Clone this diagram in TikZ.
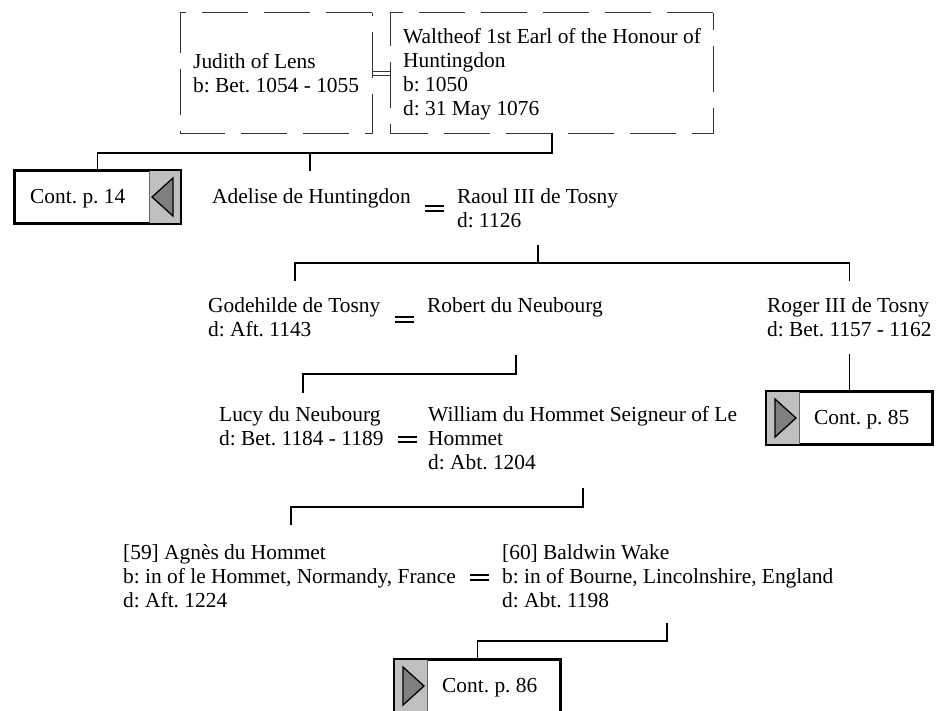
\documentclass[tikz,border=0pt]{standalone}
\usepackage{fontspec}
\setmainfont{Liberation Serif}
\newcommand\persfont{\fontsize{21.4pt}{24pt}\selectfont\frenchspacing}
\begin{document}
\begin{tikzpicture}[x=1pt,y=-1pt,
  person/.style={anchor=base west, inner sep=0pt, align=left, font=\persfont},
  conn/.style={line width=1.8pt, black},
  dashline/.style={line width=1.3pt, draw=black!80, dash pattern=on 46pt off 16pt},
  dblline/.style={line width=1pt, draw=black!80},
  eqbar/.style={line width=2pt, black},
  holder/.style={draw=none, inner sep=0pt, minimum height=120pt},
  contbox/.style={draw=black, line width=2pt, inner sep=0pt, minimum width=165pt, minimum height=52pt},
  greypart/.style={fill=black!25, draw=black!60, line width=1pt},
  tri/.style={fill=black!50, draw=black, line width=1.3pt, line join=miter}
]
\useasboundingbox (0,0) rectangle (937,710);

% ---- dashed boxes of the top couple
\node[holder, minimum width=191pt] (judbox) at (276.5,73) {};
\node[holder, minimum width=322pt] (walbox) at (552,73) {};
\draw[dashline] (judbox.north east) -- (judbox.north west) -- (judbox.south west) -- (judbox.south east) -- cycle;
\draw[dashline] (walbox.north east) -- (walbox.north west) -- (walbox.south west) -- (walbox.south east) -- cycle;
\draw[dblline] ([yshift=-2pt]judbox.east) -- ([yshift=-2pt]walbox.west);
\draw[dblline] ([yshift=1.2pt]judbox.east) -- ([yshift=1.2pt]walbox.west);

% (base anchor = baseline of the last line)
\node[person] (judith) at (193,92) {Judith of Lens\\b: Bet. 1054 - 1055};
\node[person] (waltheof) at (403,115) {Waltheof 1st Earl of the Honour of\\Huntingdon\\b: 1050\\d: 31 May 1076};

% ---- generation 2
\node[person] (adelise) at (212,203) {Adelise de Huntingdon};
\node[person] (raoul) at (457,227) {Raoul III de Tosny\\d: 1126};
\draw[eqbar] (425,206) -- ++(19,0) (425,211) -- ++(19,0);

% continuation box p. 14
\node[contbox] (c14) at (97.5,197) {};
\filldraw[greypart] ([xshift=-32pt]c14.north east) rectangle (c14.south east);
\filldraw[tri] (152,197) -- (173,178) -- (173,216) -- cycle;
\draw[line width=2pt] (c14.north west) rectangle (c14.south east);
\node[person] (c14t) at (30,203) {Cont. p. 14};

% connectors gen 1 -> gen 2
\coordinate (b1) at (0,153);
\coordinate (adtop) at (310,171);
\draw[conn] (walbox.south) -- (walbox.south |- b1) -- (c14.north |- b1) -- (c14.north);
\draw[conn] (adtop |- b1) -- (adtop);

% ---- generation 3
\node[person] (godehilde) at (208,336) {Godehilde de Tosny\\d: Aft. 1143};
\node[person] (robert) at (427,312) {Robert du Neubourg};
\draw[eqbar] (395,317) -- ++(19,0) (395,322) -- ++(19,0);
\node[person] (roger) at (767,336) {Roger III de Tosny\\d: Bet. 1157 - 1162};

\coordinate (raoulbot) at (538,245);
\coordinate (b2) at (0,263);
\coordinate (godtop) at (295,281);
\coordinate (rogtop) at (849.5,281);
\draw[conn] (raoulbot) -- (raoulbot |- b2);
\draw[conn] (godtop) -- (godtop |- b2) -- (rogtop |- b2) -- (rogtop);

% continuation box p. 85
\node[contbox] (c85) at (849.5,418) {};
\filldraw[greypart] (c85.north west) rectangle ([xshift=33pt]c85.south west);
\filldraw[tri] (775,399) -- (796,418) -- (775,437) -- cycle;
\draw[line width=2pt] (c85.north west) rectangle (c85.south east);
\node[person] (c85t) at (814,424) {Cont. p. 85};
\coordinate (rogbot) at (849.5,354);
\draw[conn] (rogbot) -- (c85.north);

% ---- generation 4
\node[person] (lucy) at (219,445) {Lucy du Neubourg\\d: Bet. 1184 - 1189};
\node[person] (william) at (428,469) {William du Hommet Seigneur of Le\\Hommet\\d: Abt. 1204};
\draw[eqbar] (398,437) -- ++(19,0) (398,442) -- ++(19,0);

\coordinate (robbot) at (516,355);
\coordinate (b3) at (0,374);
\coordinate (lucytop) at (303,393);
\draw[conn] (robbot) -- (robbot |- b3) -- (lucytop |- b3) -- (lucytop);

% ---- generation 5
\node[person] (agnes) at (123,607) {[59] Agnès du Hommet\\b: in of le Hommet, Normandy, France\\d: Aft. 1224};
\node[person] (baldwin) at (502,607) {[60] Baldwin Wake\\b: in of Bourne, Lincolnshire, England\\d: Abt. 1198};
\draw[eqbar] (470,575) -- ++(19,0) (470,580) -- ++(19,0);

\coordinate (wilbot) at (583,488);
\coordinate (b4) at (0,507);
\coordinate (agtop) at (291,525);
\draw[conn] (wilbot) -- (wilbot |- b4) -- (agtop |- b4) -- (agtop);

% continuation box p. 86
\node[contbox] (c86) at (477.5,686) {};
\filldraw[greypart] (c86.north west) rectangle ([xshift=33pt]c86.south west);
\filldraw[tri] (403,667) -- (424,686) -- (403,705) -- cycle;
\draw[line width=2pt] (c86.north west) rectangle (c86.south east);
\node[person] (c86t) at (442,692) {Cont. p. 86};

\coordinate (balbot) at (667,623);
\coordinate (b5) at (0,641);
\draw[conn] (balbot) -- (balbot |- b5) -- (c86.north |- b5) -- (c86.north);
\end{tikzpicture}
\end{document}
